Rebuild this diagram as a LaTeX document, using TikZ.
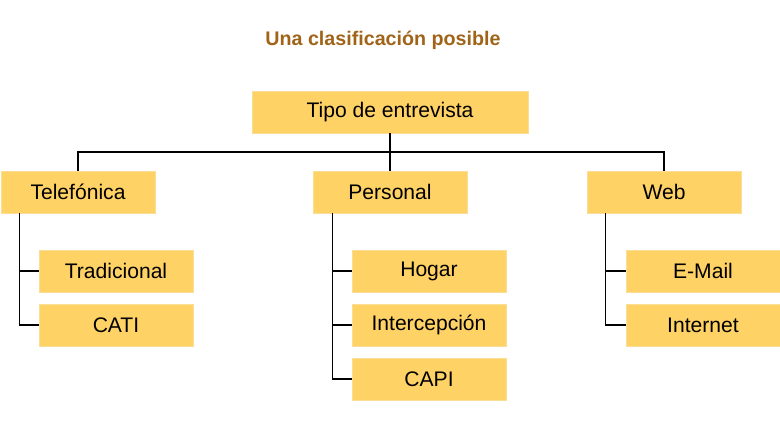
\documentclass[tikz,border=0pt]{standalone}
\usepackage{fontspec}
\setmainfont{Liberation Sans}
\begin{document}
\begin{tikzpicture}[x=0.025cm,y=-0.025cm]
        % Define styles for boxes and links
        \definecolor{boxfill}{RGB}{255,210,102}
        \definecolor{boxline}{RGB}{250,222,150}
        \definecolor{titlecol}{RGB}{160,100,25}
        \tikzstyle{box}=[rectangle, draw=boxline, fill=boxfill, minimum width=3.85cm, minimum height=1.05cm, inner sep=0pt, font=\fontsize{15}{18}\selectfont]
        \tikzstyle{link}=[draw=black, line width=0.8pt]
        \useasboundingbox (0,0) rectangle (780,428);

        % Title
        \node[font=\fontsize{14}{17}\selectfont\bfseries, text=titlecol] (title) at (383,40) {Una clasificación posible};

        % Define boxes
        \node[box, minimum width=6.9cm] (tipo) at (390,112) {Tipo de entrevista};
        \node[box] (tel) at (78,192) {Telefónica};
        \node[box] (per) at (390,192) {Personal};
        \node[box] (web) at (664,192) {Web};
        \node[box] (trad) at (116,271) {Tradicional};
        \node[box] (cati) at (116,325) {CATI};
        \node[box] (hogar) at (429,271) {Hogar};
        \node[box] (inter) at (429,325) {Intercepción};
        \node[box] (capi) at (429,379) {CAPI};
        \node[box] (mail) at (703,271) {E-Mail};
        \node[box] (net) at (703,325) {Internet};

        % Draw links
        \coordinate (bus) at (390,152);
        \draw[link] (tipo.south) -- (bus);
        \draw[link] (tel.north) |- (bus) -| (web.north);
        \draw[link] (bus) -- (per.north);
        \draw[link] (tel.south west) ++(19,0) |- (trad.west);
        \draw[link] (tel.south west) ++(19,0) |- (cati.west);
        \draw[link] (per.south west) ++(20,0) |- (hogar.west);
        \draw[link] (per.south west) ++(20,0) |- (inter.west);
        \draw[link] (per.south west) ++(20,0) |- (capi.west);
        \draw[link] (web.south west) ++(19,0) |- (mail.west);
        \draw[link] (web.south west) ++(19,0) |- (net.west);

      \end{tikzpicture}
\end{document}
